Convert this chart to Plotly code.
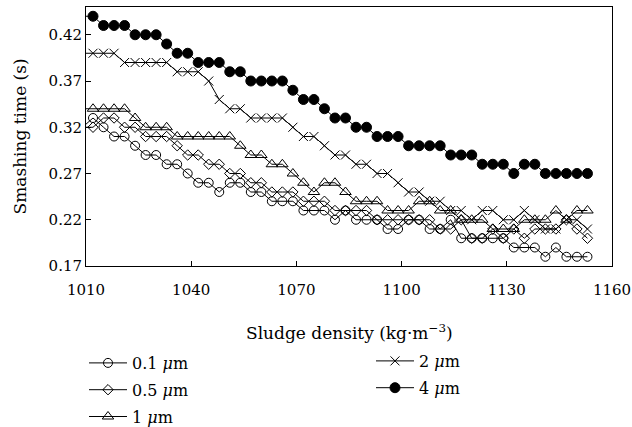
import plotly.graph_objects as go

density = [1009, 1012, 1015, 1018, 1021, 1024, 1027, 1030, 1033, 1036,
           1039, 1042, 1045, 1048, 1051, 1054, 1057, 1060, 1063, 1066,
           1069, 1072, 1075, 1078, 1081, 1084, 1087, 1090, 1093, 1096,
           1099, 1102, 1105, 1108, 1111, 1114, 1117, 1120, 1123, 1126,
           1129, 1132, 1135, 1138, 1141, 1144, 1147, 1150, 1153]

t_01 = [0.32, 0.33, 0.32, 0.31, 0.31, 0.30, 0.29, 0.29, 0.28, 0.28,
        0.27, 0.26, 0.26, 0.25, 0.26, 0.26, 0.25, 0.25, 0.24, 0.24,
        0.24, 0.23, 0.23, 0.23, 0.22, 0.23, 0.22, 0.22, 0.22, 0.21,
        0.21, 0.22, 0.22, 0.21, 0.21, 0.22, 0.20, 0.20, 0.20, 0.20,
        0.20, 0.19, 0.19, 0.19, 0.18, 0.19, 0.18, 0.18, 0.18]

t_05 = [0.32, 0.32, 0.33, 0.33, 0.32, 0.32, 0.31, 0.31, 0.31, 0.30,
        0.29, 0.29, 0.28, 0.28, 0.27, 0.27, 0.26, 0.26, 0.25, 0.25,
        0.25, 0.24, 0.24, 0.24, 0.23, 0.23, 0.23, 0.23, 0.22, 0.22,
        0.22, 0.22, 0.22, 0.22, 0.21, 0.21, 0.22, 0.20, 0.20, 0.21,
        0.20, 0.21, 0.20, 0.21, 0.21, 0.21, 0.22, 0.21, 0.20]

t_1 = [0.34, 0.34, 0.34, 0.34, 0.34, 0.33, 0.32, 0.32, 0.32, 0.31,
       0.31, 0.31, 0.31, 0.31, 0.31, 0.30, 0.29, 0.29, 0.28, 0.28,
       0.27, 0.26, 0.25, 0.26, 0.26, 0.25, 0.24, 0.24, 0.24, 0.23,
       0.23, 0.23, 0.24, 0.24, 0.23, 0.23, 0.22, 0.22, 0.22, 0.21,
       0.21, 0.21, 0.22, 0.22, 0.22, 0.23, 0.22, 0.23, 0.23]

t_2 = [0.40, 0.40, 0.40, 0.40, 0.39, 0.39, 0.39, 0.39, 0.39, 0.38,
       0.38, 0.38, 0.37, 0.35, 0.34, 0.34, 0.33, 0.33, 0.33, 0.33,
       0.32, 0.31, 0.31, 0.30, 0.29, 0.29, 0.28, 0.28, 0.27, 0.27,
       0.26, 0.25, 0.25, 0.24, 0.24, 0.23, 0.23, 0.22, 0.23, 0.23,
       0.22, 0.22, 0.23, 0.22, 0.21, 0.21, 0.22, 0.22, 0.21]

t_4 = [0.44, 0.44, 0.43, 0.43, 0.43, 0.42, 0.42, 0.42, 0.41, 0.40,
       0.40, 0.39, 0.39, 0.39, 0.38, 0.38, 0.37, 0.37, 0.37, 0.37,
       0.36, 0.35, 0.35, 0.34, 0.33, 0.33, 0.32, 0.32, 0.31, 0.31,
       0.31, 0.30, 0.30, 0.30, 0.30, 0.29, 0.29, 0.29, 0.28, 0.28,
       0.28, 0.27, 0.28, 0.28, 0.27, 0.27, 0.27, 0.27, 0.27]

x_ticks = [1010, 1040, 1070, 1100, 1130, 1160]
y_ticks = [0.17, 0.22, 0.27, 0.32, 0.37, 0.42]

names = ["0.1 <i>μ</i>m", "0.5 <i>μ</i>m", "1 <i>μ</i>m", "2 <i>μ</i>m", "4 <i>μ</i>m"]
series = [t_01, t_05, t_1, t_2, t_4]
symbols = ["circle-open", "diamond-open", "triangle-up-open", "x-thin-open", "circle"]
sizes = [9, 8, 10, 9, 10]
legends = ["legend", "legend", "legend", "legend2", "legend2"]

FONT = "DejaVu Serif"

fig = go.Figure()
for k in range(5):
    fig.add_trace(go.Scatter(
        x=density, y=series[k], name=names[k], mode="lines+markers",
        line=dict(color="black", width=1),
        marker=dict(symbol=symbols[k], size=sizes[k], color="black",
                    line=dict(color="black", width=1)),
        cliponaxis=False, legend=legends[k], legendgroup="g%d" % k,
    ))

axis_common = dict(showline=True, linecolor="black", linewidth=1, mirror=True,
                   ticks="inside", ticklen=5, tickcolor="black", tickwidth=1,
                   showgrid=False, zeroline=False,
                   tickfont=dict(family=FONT, size=15, color="black"))

fig.update_layout(
    width=632, height=427,
    margin=dict(l=86, r=20, t=7, b=161, autoexpand=False),
    plot_bgcolor="white", paper_bgcolor="white",
    font=dict(family=FONT, color="black"),
    xaxis=dict(range=[1010, 1160], tickvals=x_ticks, tickangle=0,
               ticklabelstandoff=10, **axis_common),
    yaxis=dict(range=[0.17, 0.45], tickvals=y_ticks, tickformat=".2f", **axis_common),
    annotations=[
        dict(text="Sludge density (kg·m<sup>−3</sup>)", xref="paper", yref="paper",
             x=0.5, y=(266-332)/259, xanchor="center", yanchor="middle", showarrow=False,
             font=dict(family=FONT, size=17, color="black")),
        dict(text="Smashing time (s)", xref="paper", yref="paper",
             x=(19-86)/526, y=0.5, xanchor="center", yanchor="middle", showarrow=False,
             textangle=-90, font=dict(family=FONT, size=17, color="black")),
    ],
    legend=dict(xref="container", yref="container", x=84/632, y=1-346/427,
                xanchor="left", yanchor="top", orientation="v",
                font=dict(family=FONT, size=16), tracegroupgap=3,
                bgcolor="rgba(0,0,0,0)", itemwidth=38),
    legend2=dict(xref="container", yref="container", x=371/632, y=1-344/427,
                 xanchor="left", yanchor="top", orientation="v",
                 font=dict(family=FONT, size=16), tracegroupgap=3,
                 bgcolor="rgba(0,0,0,0)", itemwidth=38),
    showlegend=True,
)

fig.write_html("out.html", config={"displayModeBar": False},
               post_script="document.body.style.margin='0';")
